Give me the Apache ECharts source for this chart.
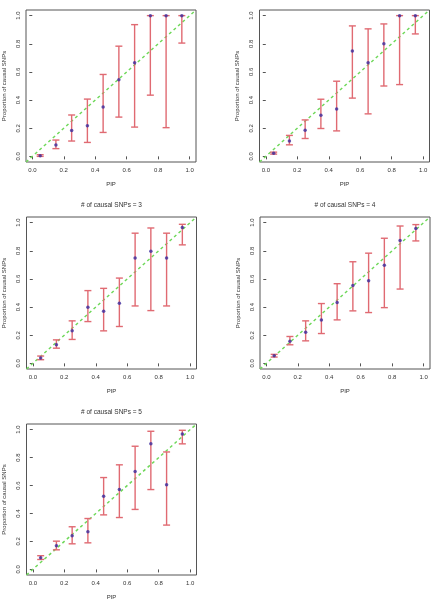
<!DOCTYPE html>
<html>
<head>
<meta charset="utf-8">
<script src="https://cdn.jsdelivr.net/npm/echarts@6/dist/echarts.min.js"></script>
<style>
  html, body { margin: 0; padding: 0; background: #fff; }
  #chart { width: 443px; height: 601px; }
</style>
</head>
<body>
<div id="chart"></div>
<script>
// PIP bins (x positions)
const pip = [0.05, 0.15, 0.25, 0.35, 0.45, 0.55, 0.65, 0.75, 0.85, 0.95]
const tickValues = [0, 0.2, 0.4, 0.6, 0.8, 1.0]
const titles = [
  '# of causal SNPs = 1',
  '# of causal SNPs = 2',
  '# of causal SNPs = 3',
  '# of causal SNPs = 4',
  '# of causal SNPs = 5'
]

// proportion of causal SNPs, with lower / upper interval
const est1 = [0.005, 0.081, 0.184, 0.218, 0.350, 0.544, 0.665, 1.0, 1.0, 1.0]
const lower1 = [0.0, 0.055, 0.109, 0.099, 0.170, 0.279, 0.208, 0.435, 0.204, 0.805]
const upper1 = [0.012, 0.116, 0.294, 0.407, 0.582, 0.783, 0.936, 1.0, 1.0, 1.0]

const est2 = [0.023, 0.110, 0.186, 0.292, 0.337, 0.748, 0.665, 0.800, 1.0, 1.0]
const lower2 = [0.016, 0.082, 0.127, 0.198, 0.181, 0.414, 0.302, 0.500, 0.510, 0.870]
const upper2 = [0.030, 0.149, 0.259, 0.406, 0.534, 0.927, 0.906, 0.941, 1.0, 1.0]

const est3 = [0.038, 0.132, 0.231, 0.399, 0.370, 0.427, 0.748, 0.797, 0.748, 0.965]
const lower3 = [0.026, 0.108, 0.170, 0.297, 0.231, 0.262, 0.408, 0.375, 0.408, 0.842]
const upper3 = [0.052, 0.167, 0.302, 0.517, 0.533, 0.606, 0.925, 0.962, 0.925, 0.988]

const est4 = [0.054, 0.158, 0.222, 0.309, 0.432, 0.554, 0.587, 0.698, 0.873, 0.958]
const lower4 = [0.045, 0.132, 0.160, 0.212, 0.309, 0.373, 0.361, 0.396, 0.528, 0.870]
const upper4 = [0.064, 0.191, 0.302, 0.425, 0.566, 0.722, 0.783, 0.889, 0.976, 0.986]

const est5 = [0.083, 0.169, 0.240, 0.269, 0.524, 0.571, 0.700, 0.898, 0.605, 0.969]
const lower5 = [0.071, 0.140, 0.183, 0.190, 0.390, 0.371, 0.429, 0.571, 0.317, 0.898]
const upper5 = [0.098, 0.202, 0.305, 0.364, 0.657, 0.748, 0.881, 0.988, 0.840, 0.995]

const panels = [
  { est: est1, lower: lower1, upper: upper1 },
  { est: est2, lower: lower2, upper: upper2 },
  { est: est3, lower: lower3, upper: upper3 },
  { est: est4, lower: lower4, upper: upper4 },
  { est: est5, lower: lower5, upper: upper5 }
]

// plot boxes (px)
const boxes = [
  { left: 26, top: 10, width: 170, height: 152 },
  { left: 259.5, top: 10, width: 170, height: 152 },
  { left: 26.5, top: 217, width: 170, height: 152 },
  { left: 260, top: 217, width: 170, height: 152 },
  { left: 26.5, top: 424, width: 170, height: 151 }
]

const textColor = '#333'
const fontFamily = 'Liberation Sans, Arial, sans-serif'

const myChart = echarts.init(document.getElementById('chart'), null, { renderer: 'canvas' })

const grid = boxes.map(b => ({
  left: b.left, top: b.top, width: b.width, height: b.height,
  show: true, borderColor: '#555', borderWidth: 1, backgroundColor: 'transparent'
}))

const axisCommon = {
  type: 'value',
  min: -0.04,
  max: 1.04,
  splitLine: { show: false },
  axisLine: { show: false },
  axisTick: { show: true, inside: false, length: 3, customValues: tickValues, lineStyle: { color: '#555' } },
  nameLocation: 'middle',
  nameTextStyle: { color: textColor, fontSize: 6, fontFamily: fontFamily }
}

const xAxis = boxes.map((b, i) => ({
  ...axisCommon,
  gridIndex: i,
  name: 'PIP',
  nameGap: 19,
  axisLabel: {
    customValues: tickValues,
    formatter: v => v.toFixed(1),
    fontSize: 6, color: textColor, fontFamily: fontFamily, margin: 5
  }
}))

const yAxis = boxes.map((b, i) => ({
  ...axisCommon,
  gridIndex: i,
  name: 'Proportion of causal SNPs',
  nameGap: 19,
  axisLabel: {
    customValues: tickValues,
    formatter: v => v.toFixed(1),
    rotate: 90,
    fontSize: 6, color: textColor, fontFamily: fontFamily, margin: 5
  }
}))

const series = []
panels.forEach((p, i) => {
  // y = x reference line
  series.push({
    type: 'line',
    xAxisIndex: i, yAxisIndex: i,
    data: [[-0.04, -0.04], [1.04, 1.04]],
    symbol: 'none',
    silent: true,
    lineStyle: { color: '#6fd85a', width: 1.5, type: [3, 3] },
    z: 1
  })
  // error bars
  series.push({
    type: 'custom',
    xAxisIndex: i, yAxisIndex: i,
    data: pip.map((x, k) => [x, p.lower[k], p.upper[k]]),
    encode: { x: 0, y: [1, 2] },
    renderItem: (params, api) => {
      const x = api.value(0)
      const hi = api.coord([x, api.value(2)])
      const lo = api.coord([x, api.value(1)])
      const w = 3.5
      const style = { stroke: '#e06a72', lineWidth: 1.4 }
      return {
        type: 'group',
        children: [
          { type: 'line', shape: { x1: hi[0], y1: hi[1], x2: lo[0], y2: lo[1] }, style },
          { type: 'line', shape: { x1: hi[0] - w, y1: hi[1], x2: hi[0] + w, y2: hi[1] }, style },
          { type: 'line', shape: { x1: lo[0] - w, y1: lo[1], x2: lo[0] + w, y2: lo[1] }, style }
        ]
      }
    },
    z: 2
  })
  // point estimates
  series.push({
    type: 'scatter',
    xAxisIndex: i, yAxisIndex: i,
    data: pip.map((x, k) => [x, p.est[k]]),
    symbol: 'circle',
    symbolSize: 3.5,
    itemStyle: { color: '#3b2a9c' },
    z: 3
  })
})

const graphic = boxes.map((b, i) => ({
  type: 'text',
  x: b.left + b.width / 2,
  y: b.top - 12,
  style: {
    text: titles[i],
    fill: textColor,
    font: '6.5px ' + fontFamily,
    textAlign: 'center',
    textVerticalAlign: 'middle'
  }
}))

const option = {
  animation: false,
  backgroundColor: '#fff',
  grid: grid,
  xAxis: xAxis,
  yAxis: yAxis,
  series: series,
  graphic: graphic
}

myChart.setOption(option)
</script>
</body>
</html>
